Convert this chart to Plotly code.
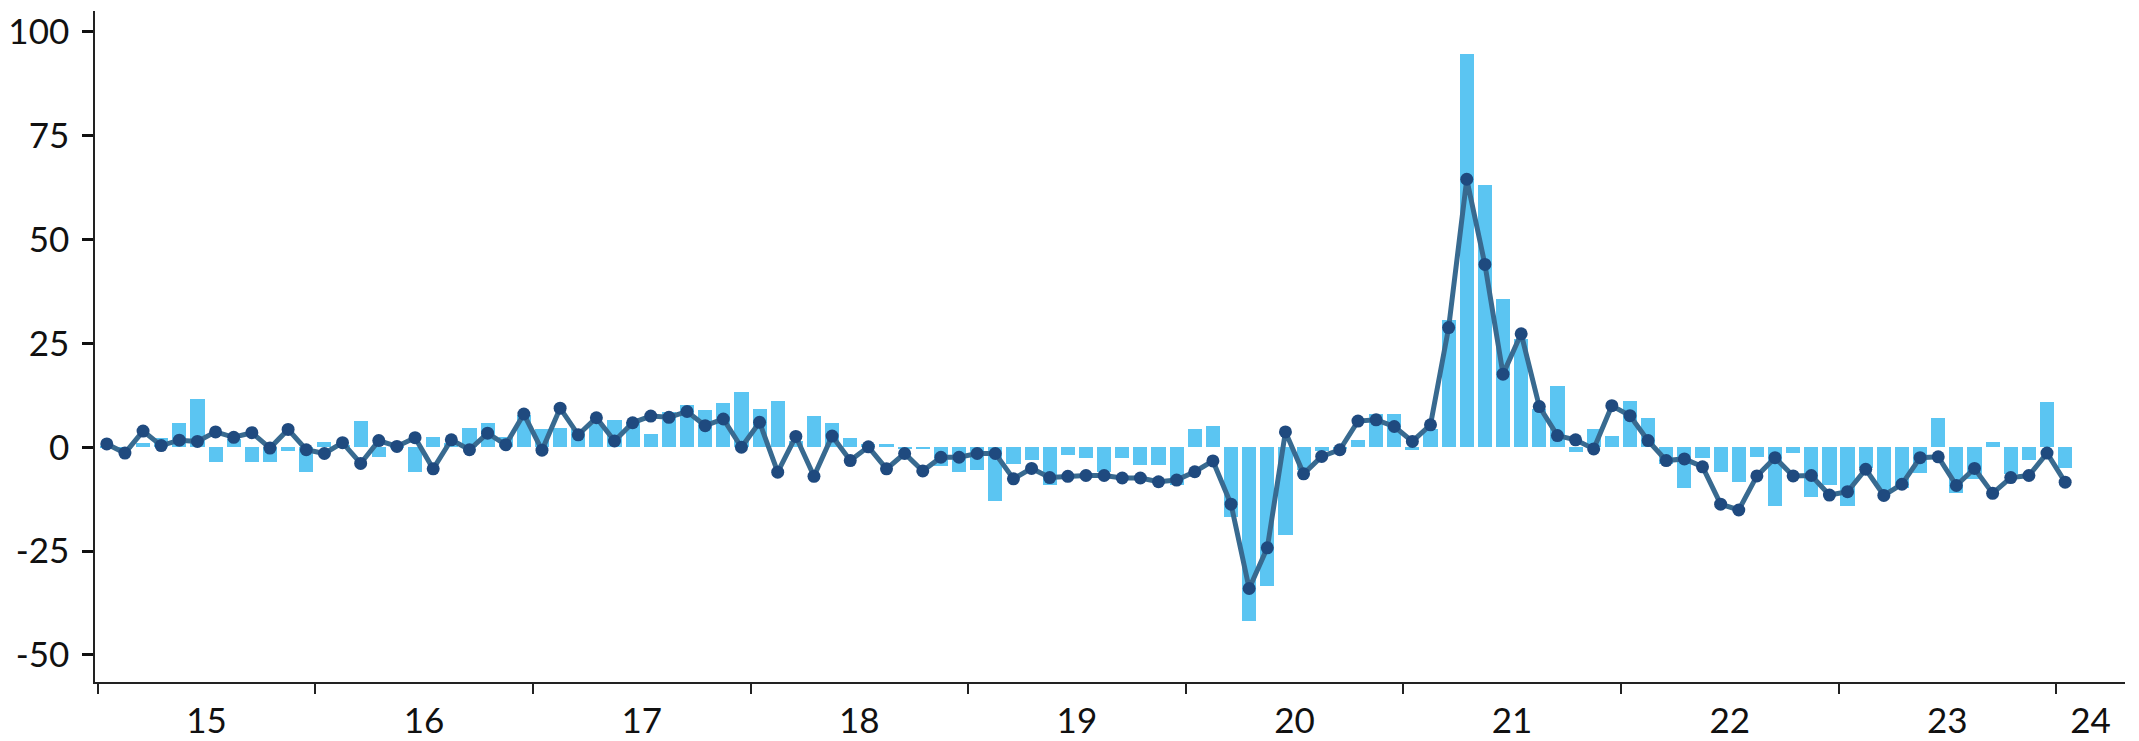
import plotly.graph_objects as go

# Monthly data, Jan 2015 .. Jan 2024
bar_values = [
    0.4, -0.3, 1.0, 2.2, 5.8, 11.5, -3.6, 2.0, -3.5, -3.5, -0.8, -5.9,          # 2015
    1.2, 0.5, 6.4, -2.4, 0.2, -5.9, 2.4, 1.0, 4.6, 5.9, 2.4, 7.8,               # 2016
    4.3, 4.6, 4.5, 5.6, 6.5, 6.0, 3.2, 8.4, 10.2, 9.0, 10.7, 13.3,              # 2017
    9.3, 11.2, 1.5, 7.5, 5.9, 2.3, 0.8, 0.7, -0.4, -0.3, -4.4, -6.0,            # 2018
    -5.4, -12.9, -4.0, -3.0, -9.2, -1.8, -2.7, -6.0, -2.5, -4.3, -4.2, -9.2,    # 2019
    4.5, 5.0, -16.9, -41.8, -33.4, -21.1, -5.5, -1.0, -0.3, 1.8, 7.9, 8.0,      # 2020
    -0.7, 4.5, 30.6, 94.6, 63.2, 35.8, 26.0, 9.2, 14.8, -1.1, 4.5, 2.6,         # 2021
    11.2, 7.0, -4.0, -9.9, -2.6, -5.9, -8.4, -2.3, -14.1, -1.4, -11.9, -9.1,    # 2022
    -14.1, -5.0, -10.2, -9.7, -6.2, 7.0, -11.0, -7.6, 1.2, -6.5, -3.0, 10.9,    # 2023
    -5.0,                                                                        # 2024
]
line_values = [
    0.8, -1.4, 3.9, 0.4, 1.7, 1.4, 3.7, 2.4, 3.5, -0.2, 4.3, -0.6,              # 2015
    -1.5, 1.1, -3.9, 1.6, 0.2, 2.3, -5.2, 1.8, -0.6, 3.4, 0.6, 8.0,             # 2016
    -0.7, 9.4, 3.0, 7.1, 1.5, 5.9, 7.5, 7.2, 8.6, 5.2, 6.8, 0.0,                # 2017
    6.0, -6.0, 2.6, -7.0, 2.7, -3.2, 0.1, -5.2, -1.5, -5.7, -2.4, -2.4,         # 2018
    -1.5, -1.5, -7.6, -5.1, -7.3, -7.0, -6.8, -6.8, -7.4, -7.4, -8.3, -7.9,     # 2019
    -5.9, -3.3, -13.7, -34.0, -24.2, 3.7, -6.4, -2.2, -0.6, 6.3, 6.6, 5.0,      # 2020
    1.4, 5.4, 28.8, 64.5, 44.0, 17.6, 27.3, 9.8, 2.8, 1.8, -0.4, 10.0,          # 2021
    7.6, 1.6, -3.2, -2.8, -4.7, -13.7, -15.1, -6.9, -2.5, -6.9, -6.8, -11.5,    # 2022
    -10.7, -5.3, -11.6, -8.9, -2.5, -2.3, -9.2, -5.1, -11.1, -7.3, -6.8, -1.4,  # 2023
    -8.4,                                                                        # 2024
]
year_labels = ["15", "16", "17", "18", "19", "20", "21", "22", "23", "24"]
y_ticks = [-50, -25, 0, 25, 50, 75, 100]
y_tick_text = ["-50", "-25", "0", "25", "50", "75", "100"]

# month index -> x position (month centres, year boundaries on multiples of 12)
x_pos = [i + 0.5 for i in range(len(bar_values))]
x_end = 111.8
year_bounds = [12 * k for k in range(len(year_labels))]
label_pos = [12 * k + 6 for k in range(len(year_labels) - 1)] + [(year_bounds[-1] + x_end) / 2]

BAR_COLOR = "#5BC5F2"
LINE_COLOR = "#386A90"
MARKER_COLOR = "#1F4A7F"
FONT = "Lato"

fig = go.Figure()
fig.add_trace(go.Bar(
    x=x_pos, y=bar_values, width=0.78,
    marker=dict(color=BAR_COLOR, line=dict(width=0)),
    showlegend=False,
))
fig.add_trace(go.Scatter(
    x=x_pos, y=line_values, mode="lines+markers",
    line=dict(color=LINE_COLOR, width=5),
    marker=dict(color=MARKER_COLOR, size=13),
    showlegend=False,
))

# the page body adds an 8 px offset; size the figure so the plot area lands in place
fig.update_layout(
    width=2131, height=733,
    margin=dict(l=87, r=14, t=3, b=59),
    paper_bgcolor="white", plot_bgcolor="white",
    font=dict(family=FONT, size=35, color="#111111"),
    bargap=0,
)
fig.update_xaxes(
    range=[-0.15, x_end], automargin=False,
    showline=True, linecolor="#222222", linewidth=1.5,
    showgrid=False, zeroline=False,
    tickmode="array", tickvals=label_pos, ticktext=year_labels,
    ticks="", ticklabelstandoff=7, ticklabeloverflow="allow",
    minor=dict(tickmode="array", tickvals=year_bounds, ticks="outside",
               ticklen=10, tickwidth=2, tickcolor="#222222", showgrid=False),
)
fig.update_yaxes(
    range=[-56.5, 105], automargin=False,
    showline=True, linecolor="#222222", linewidth=1.5,
    showgrid=False, zeroline=False,
    tickmode="array", tickvals=y_ticks, ticktext=y_tick_text,
    ticks="outside", ticklen=11, tickwidth=3, tickcolor="#111111",
    ticklabelstandoff=6, ticklabeloverflow="allow",
)

fig.write_html("out.html")
